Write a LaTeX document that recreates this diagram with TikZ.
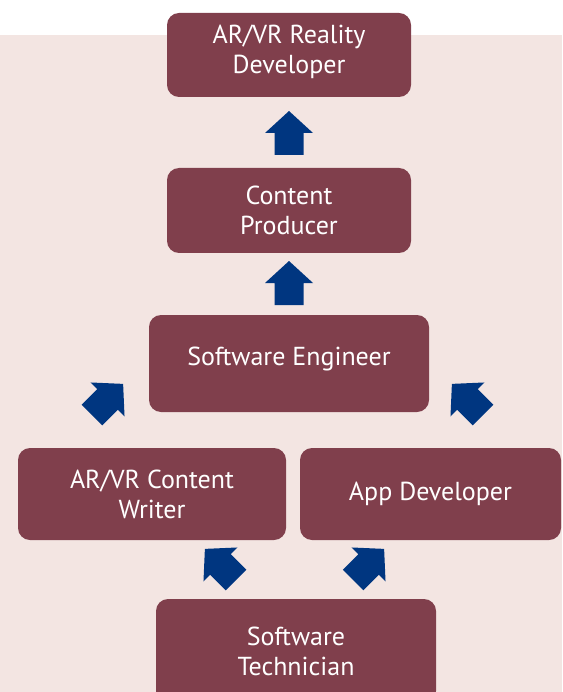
\documentclass[tikz,border=0pt]{standalone}
\usepackage{fontspec}
\setmainfont{PT Sans}
\definecolor{boxc}{RGB}{128,63,76}
\definecolor{arrc}{RGB}{0,54,128}
\definecolor{bgc}{RGB}{243,229,226}
\tikzset{
  careerbox/.style={fill=boxc, draw=none, rounded corners=12pt, text=white, align=center,
    inner sep=0pt, font=\fontsize{26}{30}\selectfont},
  pics/blockarrow/.style={code={
    \fill[arrc] (-14.5,0) -- (14.5,0) -- (14.5,-22) -- (24,-22) -- (0,-44) -- (-24,-22) -- (-14.5,-22) -- cycle;
  }}
}
\begin{document}
\begin{tikzpicture}[x=1pt,y=-1pt]
\useasboundingbox (0,0) rectangle (562,692);
\fill[bgc] (0,35) rectangle (562,692);
\node[careerbox, minimum width=244pt, minimum height=84pt, text depth=11pt] (b1) at (289,55) {AR/VR Reality\\Developer};
\node[careerbox, minimum width=244pt, minimum height=85pt] (b2) at (289,210.5) {Content\\Producer};
\node[careerbox, minimum width=280pt, minimum height=97pt, text depth=14pt] (b3) at (289,363.5) {Software Engineer};
\node[careerbox, minimum width=268pt, minimum height=92pt] (b4) at (152,494) {AR/VR Content\\Writer};
\node[careerbox, minimum width=261pt, minimum height=92pt] (b5) at (430.5,494) {App Developer};
\node[careerbox, minimum width=280pt, minimum height=104pt] (b6) at (296,651) {Software\\Technician};
\coordinate (a1) at (289,155);
\coordinate (a2) at (289,305);
\coordinate (a3) at (92,415);
\coordinate (a4) at (483,415);
\coordinate (a5) at (236,580);
\coordinate (a6) at (353,580);
\pic at (a1) {blockarrow};
\pic at (a2) {blockarrow};
\pic[rotate=-45] at (a3) {blockarrow};
\pic[rotate=45] at (a4) {blockarrow};
\pic[rotate=45] at (a5) {blockarrow};
\pic[rotate=-45] at (a6) {blockarrow};
\end{tikzpicture}
\end{document}
